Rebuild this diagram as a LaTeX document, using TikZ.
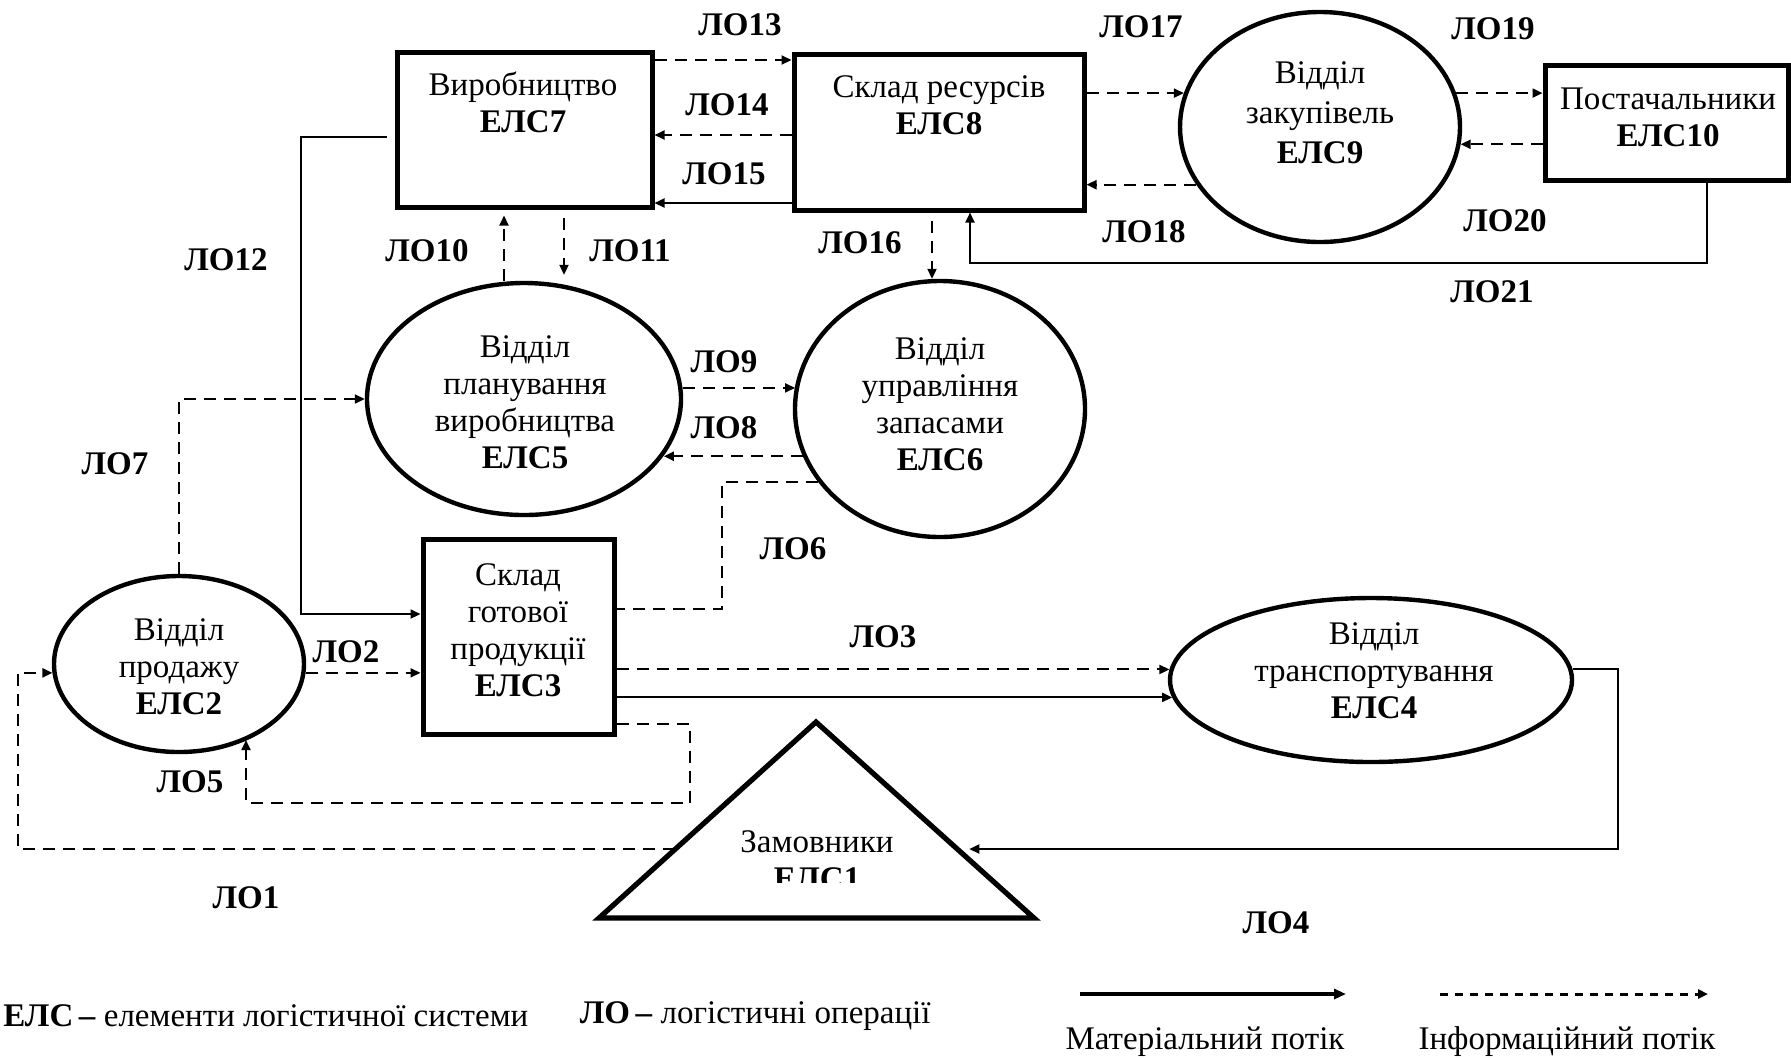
\documentclass[tikz,border=0pt]{standalone}
\usepackage{fontspec}
\setmainfont{Liberation Serif}
\usetikzlibrary{arrows.meta,shapes.geometric,calc}

\begin{document}
\begin{tikzpicture}[x=0.5pt,y=-0.5pt,
  every node/.style={font=\fontsize{16.5}{18.5}\selectfont,inner sep=0pt},
  box/.style={draw,line width=2.5pt,rectangle,inner sep=0pt},
  oval/.style={draw,line width=2.2pt,ellipse,inner sep=0pt},
  txt/.style={align=center},
  lbl/.style={font=\fontsize{16.5}{18.5}\selectfont\bfseries},
  arrowhd/.style={-{Triangle[length=5pt,width=4.5pt]}},
  info/.style={line width=1pt,dash pattern=on 6pt off 4pt,arrowhd},
  infoplain/.style={line width=1pt,dash pattern=on 6pt off 4pt},
  mat/.style={line width=1pt,arrowhd},
]
\clip (0,0) rectangle (1791,1057);
\fill[white] (0,0) rectangle (1791,1057);

% ---------- elements of the logistic system ----------
\node[box,minimum width=127.5pt,minimum height=77.5pt] (e7) at (524.5,129.5) {};
\node[box,minimum width=145pt,minimum height=78pt] (e8) at (939,132) {};
\node[box,minimum width=121.5pt,minimum height=57.5pt] (e10) at (1666.5,122.5) {};
\node[box,minimum width=95.5pt,minimum height=97.5pt] (e3) at (518.5,636.5) {};

\node[oval,minimum width=125pt,minimum height=88pt] (e2) at (179,664) {};
\node[oval,minimum width=201pt,minimum height=82pt] (e4) at (1371,680) {};
\node[oval,minimum width=157pt,minimum height=116pt] (e5) at (524,399) {};
\node[oval,minimum width=145pt,minimum height=128pt] (e6) at (940,409) {};
\node[oval,minimum width=140pt,minimum height=115pt] (e9) at (1320,127) {};

\coordinate (tA) at (816,722);
\coordinate (tL) at (599,918);
\coordinate (tR) at (1034,918);
\draw[line width=2.6pt,line join=miter] (tA) -- (tL) -- (tR) -- cycle;
\coordinate (pL) at ($(tA)!0.648!(tL)$);
\coordinate (pR) at ($(tA)!0.648!(tR)$);

% ---------- texts inside the elements ----------
\node[txt] (t7) at (523,102) {Виробництво\\\textbf{ЕЛС7}};
\node[txt] (t8) at (939,105) {Склад ресурсів\\\textbf{ЕЛС8}};
\node[txt] (t10) at (1668,117) {Постачальники\\\textbf{ЕЛС10}};
\node[txt,font=\fontsize{16.5}{20}\selectfont] (t9) at (1320,113) {Відділ\\закупівель\\\textbf{ЕЛС9}};
\node[txt] (t5) at (525,402) {Відділ\\планування\\виробництва\\\textbf{ЕЛС5}};
\node[txt] (t6) at (940,404) {Відділ\\управління\\запасами\\\textbf{ЕЛС6}};
\node[txt] (t3) at (518,630) {Склад\\готової\\продукції\\\textbf{ЕЛС3}};
\node[txt] (t2) at (179,667) {Відділ\\продажу\\\textbf{ЕЛС2}};
\node[txt] (t4) at (1374,671) {Відділ\\транспортування\\\textbf{ЕЛС4}};
\begin{scope}
  \clip (600,700) rectangle (1034,882);
  \node[txt] (t1) at (817,860) {Замовники\\\textbf{ЕЛС1}};
\end{scope}

% ---------- logistic operations ----------
\coordinate (k1) at (e2.184 -| 18,0);
\draw[info] (pL) -| (k1) -- (e2.184);
\draw[info] (e2.-4) -- (e2.-4 -| e3.west);
\draw[info] (e4.177 -| e3.east) -- (e4.177);
\draw[mat] (e4.185 -| e3.east) -- (e4.185);
\coordinate (k4) at (1618,849);
\draw[mat,shorten >=6pt] (e4.3) -| (k4) -- (k4 -| pR);
\coordinate (k5a) at (690,803);
\coordinate (k5b) at (246,803);
\draw[info] (e3.east |- 0,724) -| (k5a) -- (k5b) -- (k5b |- e2.-48);
\coordinate (k6) at (722,609);
\draw[infoplain] (e6.211) -| (k6) -- (k6 -| e3.east);
\draw[info] (e2.north) |- (e5.west);
\draw[info] (e6.199) -- (e6.199 -| e5.-22);
\draw[info] (e5.4) -- (e5.4 -| e6.171);
\draw[info,shorten >=3pt] (e5.north -| 504,0) -- (504,0 |- e7.south);
\draw[info,shorten <=4pt,shorten >=3pt] (564,0 |- e7.south) -- (e5.north -| 564,0);
\coordinate (k12) at (301,614);
\draw[mat,shorten <=4pt] (e7.west |- 0,137) -| (k12) -- (k12 -| e3.west);
\draw[info] (e7.east |- 0,60) -- (e8.west |- 0,60);
\draw[info] (e8.west |- 0,135) -- (e7.east |- 0,135);
\draw[mat] (e8.west |- 0,203) -- (e7.east |- 0,203);
\draw[info,shorten <=4pt] (932,0 |- e8.south) -- (e6.north -| 932,0);
\draw[info] (e9.166 -| e8.east) -- (e9.166);
\draw[info] (e9.205) -- (e9.205 -| e8.east);
\draw[info] (e9.14) -- (e9.14 -| e10.west);
\draw[info] (e9.-7 -| e10.west) -- (e9.-7);
\coordinate (k21) at (970,263);
\draw[mat] (1707,0 |- e10.south) |- (k21) -- (k21 |- e8.south);

% ---------- operation labels ----------
\node[lbl] (l1) at (246,898) {ЛО1};
\node[lbl] (l2) at (346,652) {ЛО2};
\node[lbl] (l3) at (883,637) {ЛО3};
\node[lbl] (l4) at (1276,923) {ЛО4};
\node[lbl] (l5) at (190,782) {ЛО5};
\node[lbl] (l6) at (793,549) {ЛО6};
\node[lbl] (l7) at (115,464) {ЛО7};
\node[lbl] (l8) at (724,428) {ЛО8};
\node[lbl] (l9) at (724,362) {ЛО9};
\node[lbl] (l10) at (427,251) {ЛО10};
\node[lbl] (l11) at (630,251) {ЛО11};
\node[lbl] (l12) at (226,260) {ЛО12};
\node[lbl] (l13) at (740,25) {ЛО13};
\node[lbl] (l14) at (727,105) {ЛО14};
\node[lbl] (l15) at (724,174) {ЛО15};
\node[lbl] (l16) at (860,243) {ЛО16};
\node[lbl] (l17) at (1141,27) {ЛО17};
\node[lbl] (l18) at (1144,232) {ЛО18};
\node[lbl] (l19) at (1493,29) {ЛО19};
\node[lbl] (l20) at (1505,221) {ЛО20};
\node[lbl] (l21) at (1492,292) {ЛО21};

% ---------- legend ----------
\node[anchor=west] (lels) at (3,1016) {\textbf{ЕЛС}\,\textbf{–} елементи логістичної системи};
\node[anchor=east] (llo) at (931,1016) {\textbf{ЛО}\,\textbf{–} логістичні операції};
\coordinate (la) at (1080,994);
\coordinate (lb) at (1346,994);
\draw[line width=1.8pt,-{Triangle[length=6pt,width=5pt]}] (la) -- (lb);
\coordinate (lc) at (1440,994);
\coordinate (ld) at (1708,994);
\draw[line width=1.5pt,dash pattern=on 4pt off 3.5pt,-{Triangle[length=5pt,width=4.5pt]}] (lc) -- (ld);
\node (lm) at (1205,1042) {Матеріальний потік};
\node (li) at (1567,1042) {Інформаційний потік};
\end{tikzpicture}
\end{document}
